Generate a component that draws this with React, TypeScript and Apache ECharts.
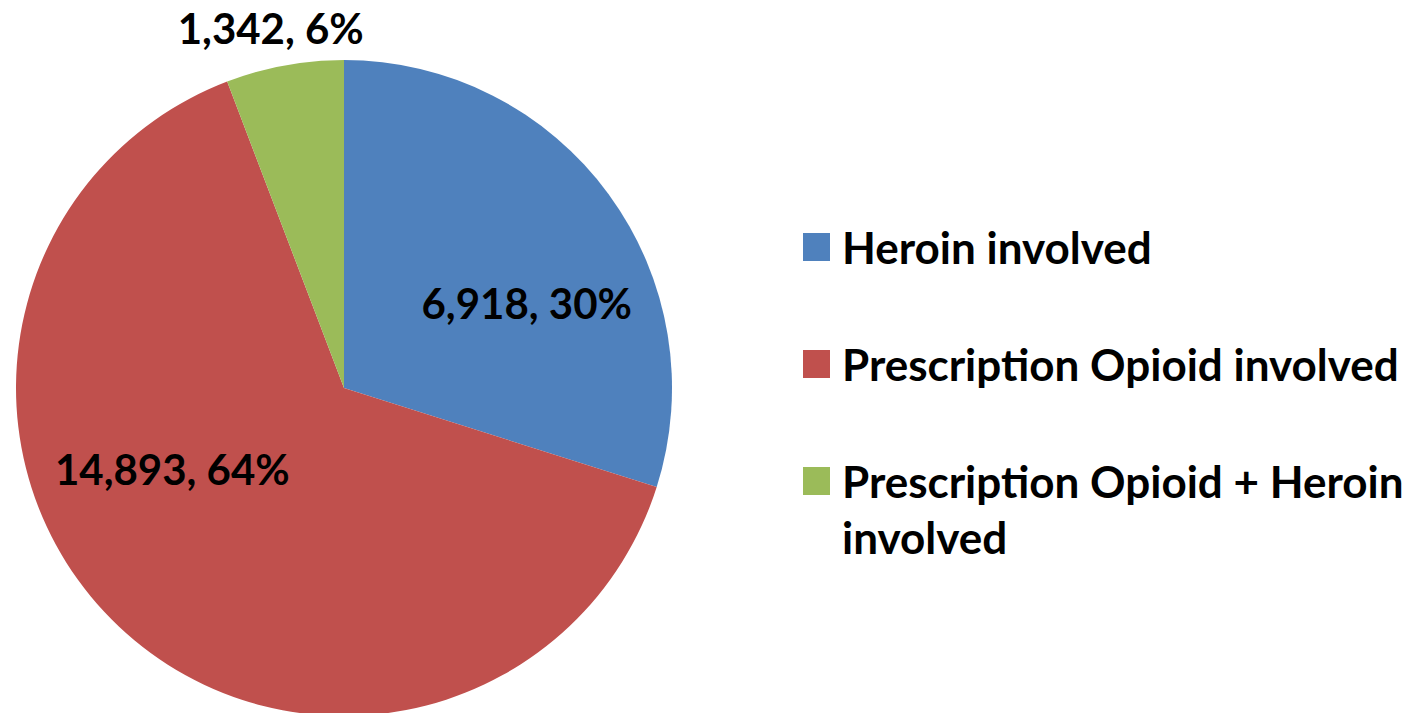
import React, { useEffect, useRef } from "react";
import * as echarts from "echarts";

const categories = [
  "Heroin involved",
  "Prescription Opioid involved",
  "Prescription Opioid + Heroin involved",
];
const values = [6918, 14893, 1342];
const colors = ["#4F81BD", "#C0504D", "#9BBB59"];
// leading blank line keeps the first text line level with the legend square
const legendLabels = [
  "Heroin involved",
  "Prescription Opioid involved",
  "\nPrescription Opioid + Heroin\ninvolved",
];
const labelOffsets = [
  [48, 14],
  [-57, -40],
  [-43, -196],
];

const FONT = "Lato";

export default function App() {
  const ref = useRef<HTMLDivElement>(null);
  useEffect(() => {
    if (!ref.current) return;
    const chart = echarts.init(ref.current, null, { renderer: "svg" });
    const legendTops = [219, 336, 397];
    const legends = categories.map((name, i) => ({
      orient: "vertical",
      left: 803,
      top: legendTops[i],
      padding: 0,
      itemWidth: 27,
      itemHeight: 28,
      itemGap: 0,
      icon: "rect",
      selectedMode: false,
      formatter: () => legendLabels[i],
      textStyle: {
        fontFamily: FONT,
        fontWeight: "bold",
        fontSize: 44,
        color: "#000",
        lineHeight: 56,
        padding: [0, 0, 0, 7],
      },
      data: [name],
    }));
    chart.setOption({
      animation: false,
      color: colors,
      legend: legends,
      series: [
        {
          type: "pie",
          center: [344, 388],
          radius: 328,
          startAngle: 90,
          clockwise: true,
          percentPrecision: 0,
          itemStyle: { borderWidth: 0 },
          emphasis: { disabled: true },
          label: {
            show: true,
            position: "inside",
            fontFamily: FONT,
            fontWeight: "bold",
            fontSize: 42,
            lineHeight: 42,
            color: "#000",
            formatter: (p: any) =>
              `${p.value.toLocaleString("en-US")}, ${Math.round(p.percent)}%`,
          },
          labelLine: { show: false },
          labelLayout: (p: any) => ({
            dx: labelOffsets[p.dataIndex][0],
            dy: labelOffsets[p.dataIndex][1],
          }),
          data: categories.map((name, i) => ({ name, value: values[i] })),
        },
      ],
    });
    return () => chart.dispose();
  }, []);
  return (
    <div
      ref={ref}
      style={{ position: "absolute", left: 0, top: 0, width: 1414, height: 713 }}
    />
  );
}
